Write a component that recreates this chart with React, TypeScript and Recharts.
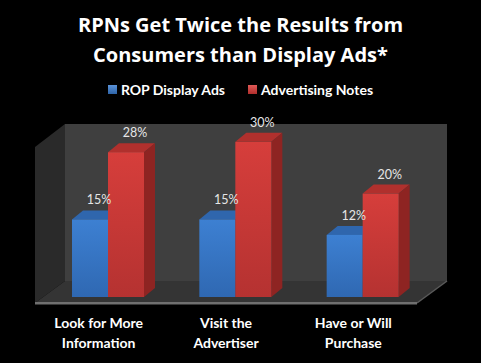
import React from 'react';
import { BarChart, Bar, XAxis, YAxis, Legend, LabelList, ReferenceArea } from 'recharts';

const categories = ['Look for More|Information', 'Visit the|Advertiser', 'Have or Will|Purchase'];
const ropDisplayAds = [15, 15, 12];
const advertisingNotes = [28, 30, 20];

const data = categories.map((c, i) => ({
  name: c,
  rop: ropDisplayAds[i],
  notes: advertisingNotes[i],
}));

const DX = 11;
const DY = 9;
const FONT = 'Lato, "Open Sans", sans-serif';

// 3D bar: front face, top face, right side
const Bar3D = (kind: 'blue' | 'red') => (props: any) => {
  const { x, y, width: w, height: h } = props;
  if (w == null || h == null) return null;
  const top = kind === 'blue' ? '#2f66ad' : '#b0302d';
  const side = kind === 'blue' ? '#24528c' : '#8e2422';
  return (
    <g>
      <polygon
        points={`${x},${y} ${x + DX},${y - DY} ${x + w + DX},${y - DY} ${x + w},${y}`}
        fill={top}
      />
      <polygon
        points={`${x + w},${y} ${x + w + DX},${y - DY} ${x + w + DX},${y + h - DY} ${x + w},${y + h}`}
        fill={side}
      />
      <rect x={x} y={y} width={w} height={h} fill={`url(#grad-${kind})`} />
    </g>
  );
};

// background box: back wall, left wall, floor
const Box3D = (props: any) => {
  const { x, y, width, height } = props;
  const L = x;
  const R = x + width;
  const B = y + height;
  const T = y;
  const fl = L - 9, fr = R - 9, fb = B + 6;
  const bl = L + 21, br = R + 21, bb = B - 16, bt = T + 8;
  return (
    <g>
      <polygon points={`${bl},${bt} ${br},${bt} ${br},${bb} ${bl},${bb}`} fill="#3f3f3f" />
      <polygon points={`${fl},${fb} ${fl},${bt + 23} ${bl},${bt} ${bl},${bb}`} fill="#2a2a2a" />
      <polygon points={`${fl},${fb} ${fr},${fb} ${br},${bb} ${bl},${bb}`} fill="#343434" />
      <line x1={fr} y1={fb} x2={br} y2={bb} stroke="#5a5a5a" strokeWidth={1.5} />
      <rect x={fl} y={fb - 1} width={fr - fl} height={2.5} fill="#6f6f6f" />
    </g>
  );
};

const ValueLabel = (props: any) => {
  const { x, y, width, value } = props;
  return (
    <text
      x={x + width / 2 + 9}
      y={y - 15}
      textAnchor="middle"
      fill="#e6e6e6"
      fontSize={12.5}
      fontFamily={FONT}
    >
      {value}%
    </text>
  );
};

const CategoryTick = (props: any) => {
  const { y, payload } = props;
  const cx = payload.coordinate - 9;
  const lines = String(payload.value).split('|');
  return (
    <text x={cx} y={y} textAnchor="middle" fill="#ffffff" fontSize={14} fontWeight="bold" fontFamily={FONT}>
      {lines.map((l, i) => (
        <tspan key={i} x={cx} dy={i === 0 ? 23 : 20}>
          {l}
        </tspan>
      ))}
    </text>
  );
};

const LegendContent = () => {
  const items = [
    { label: 'ROP Display Ads', grad: 'linear-gradient(#5b93d8, #2e64a8)' },
    { label: 'Advertising Notes', grad: 'linear-gradient(#e05a57, #b02e2c)' },
  ];
  return (
    <div style={{ display: 'flex', justifyContent: 'center', gap: 23, fontFamily: FONT }}>
      {items.map((it) => (
        <div key={it.label} style={{ display: 'flex', alignItems: 'center', gap: 4 }}>
          <span style={{ display: 'inline-block', width: 9, height: 9, background: it.grad }} />
          <span style={{ color: '#fff', fontSize: 14, fontWeight: 'bold' }}>{it.label}</span>
        </div>
      ))}
    </div>
  );
};

export default function App() {
  return (
    <div style={{ position: 'absolute', left: 0, top: 0, width: 481, height: 363, background: '#000', overflow: 'hidden' }}>
      <svg width={0} height={0} style={{ position: 'absolute' }}>
        <defs>
          <linearGradient id="grad-blue" x1="0" y1="0" x2="0" y2="1">
            <stop offset="0%" stopColor="#3d80d2" />
            <stop offset="100%" stopColor="#2f68b2" />
          </linearGradient>
          <linearGradient id="grad-red" x1="0" y1="0" x2="0" y2="1">
            <stop offset="0%" stopColor="#d63e3b" />
            <stop offset="100%" stopColor="#b53231" />
          </linearGradient>
        </defs>
      </svg>
      <div
        style={{
          position: 'absolute',
          top: 10,
          left: 0,
          width: 481,
          textAlign: 'center',
          color: '#fff',
          fontFamily: '"Open Sans", sans-serif',
          fontWeight: 'bold',
          fontSize: 20,
          lineHeight: '30px',
        }}
      >
        RPNs Get Twice the Results from
        <br />
        Consumers than Display Ads*
      </div>
      <BarChart
        width={481}
        height={363}
        data={data}
        margin={{ top: 116, right: 55, bottom: 36, left: 44 }}
        barGap={0}
        barSize={36}
      >
        <ReferenceArea y1={0} y2={35} ifOverflow="visible" shape={Box3D} />
        <XAxis dataKey="name" axisLine={false} tickLine={false} height={30} tick={CategoryTick} interval={0} />
        <YAxis hide domain={[0, 35]} />
        <Legend
          verticalAlign="middle"
          content={LegendContent}
          wrapperStyle={{ position: 'absolute', top: 81, left: 0, width: 481 }}
        />
        <Bar dataKey="rop" name="ROP Display Ads" fill="#3a78c8" shape={Bar3D('blue')} isAnimationActive={false}>
          <LabelList dataKey="rop" content={ValueLabel} />
        </Bar>
        <Bar dataKey="notes" name="Advertising Notes" fill="#d23a3a" shape={Bar3D('red')} isAnimationActive={false}>
          <LabelList dataKey="notes" content={ValueLabel} />
        </Bar>
      </BarChart>
    </div>
  );
}
